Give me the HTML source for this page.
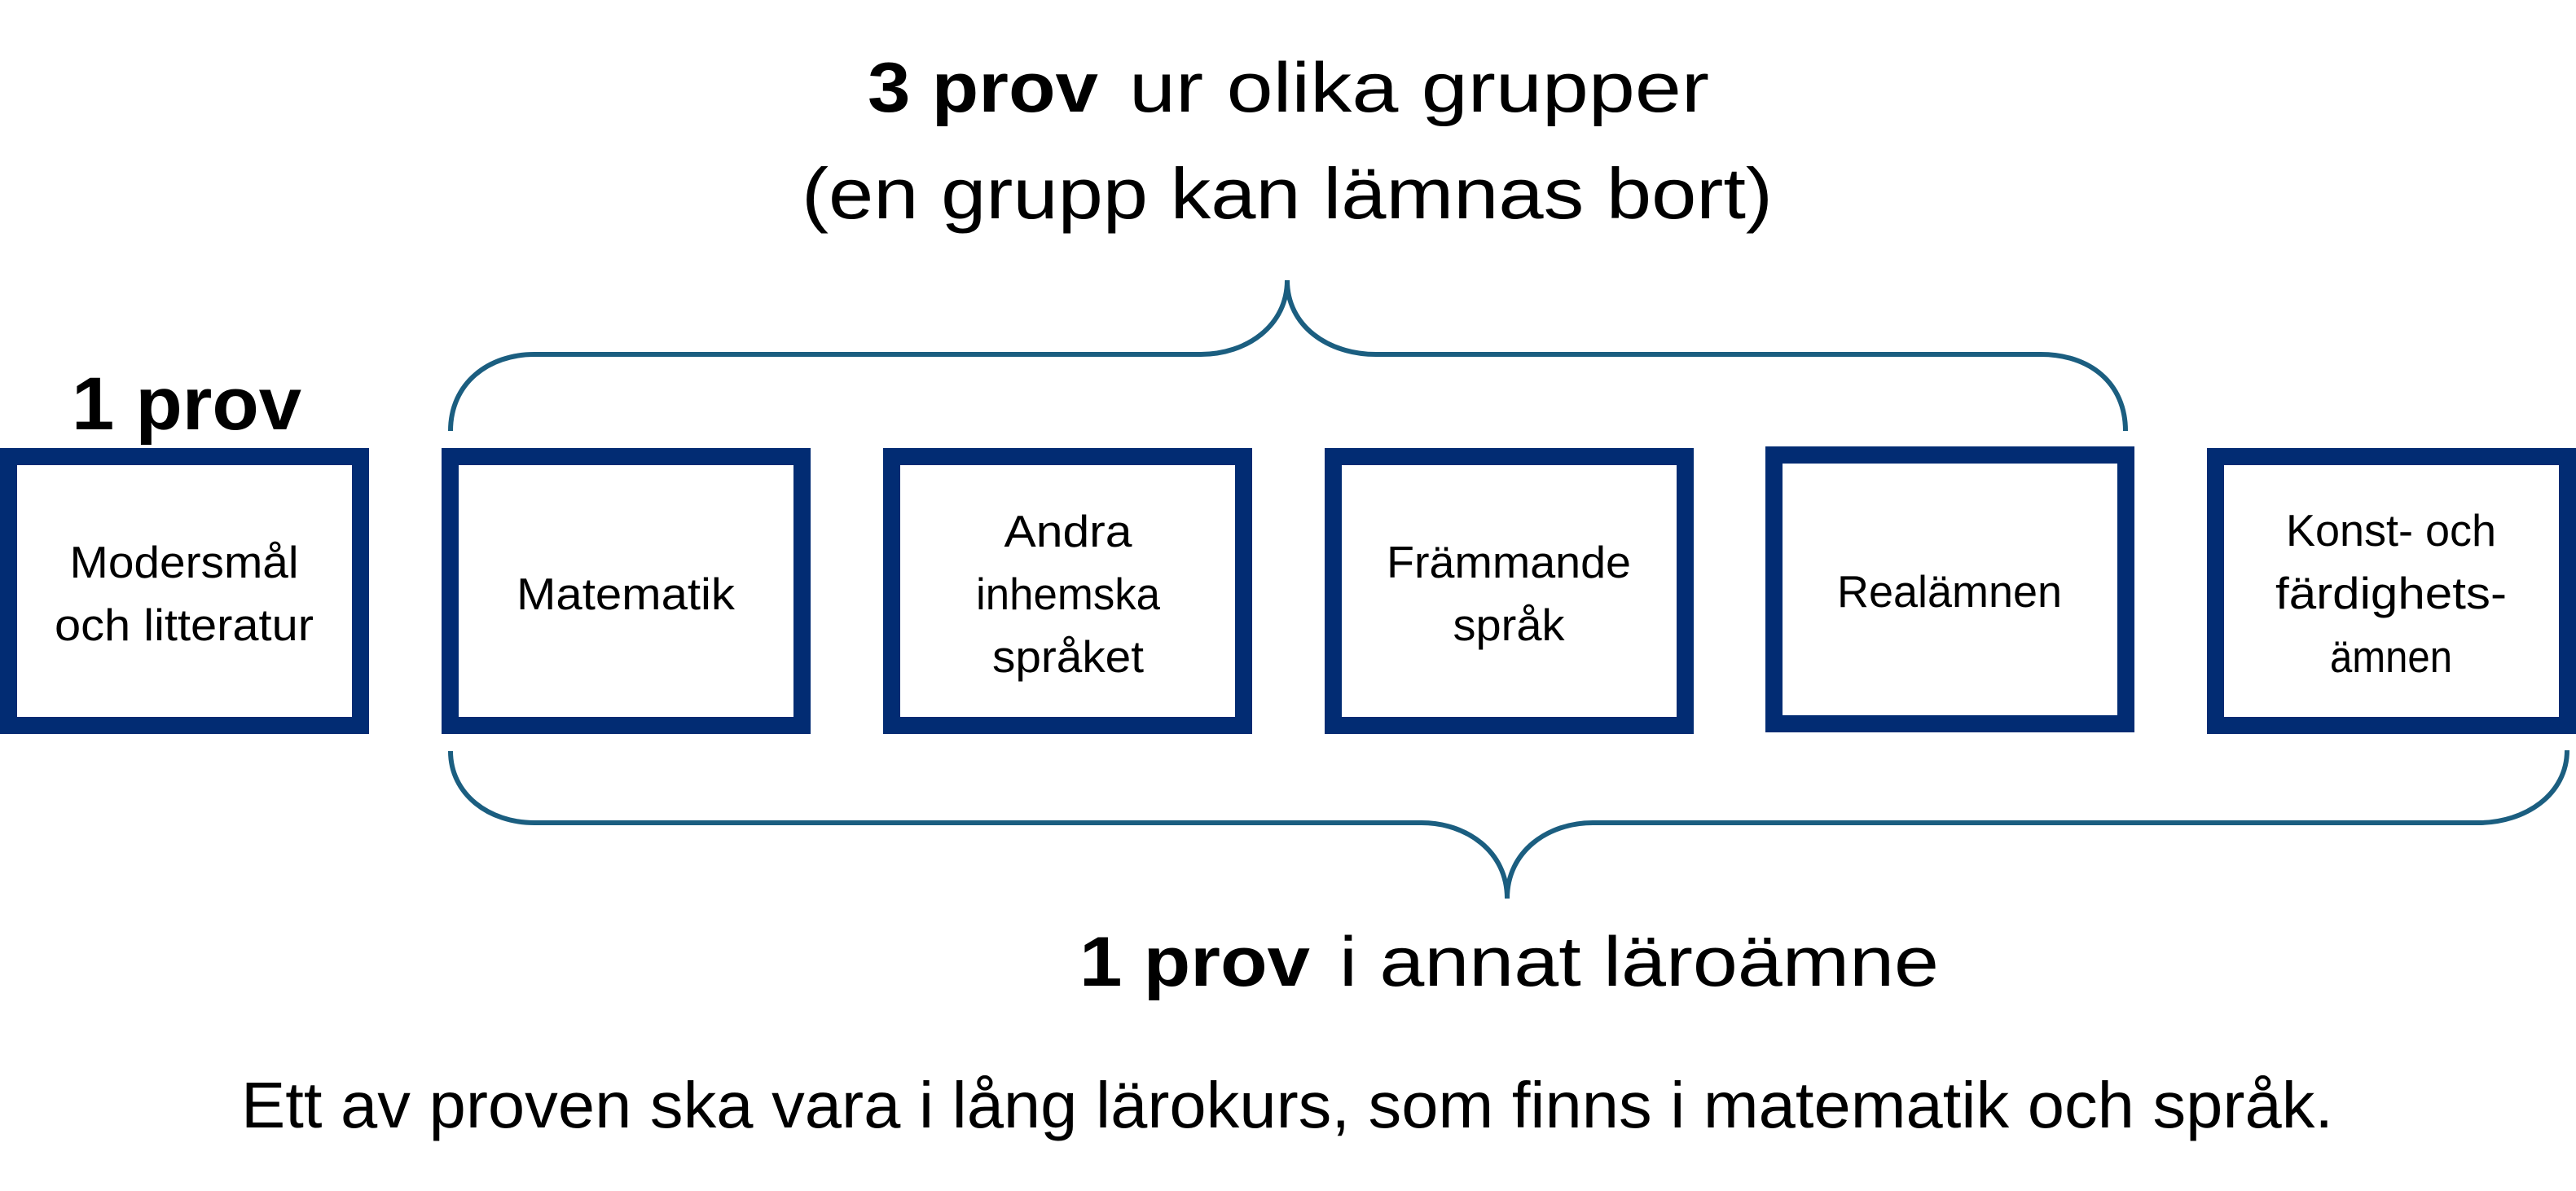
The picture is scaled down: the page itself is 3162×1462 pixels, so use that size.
<!DOCTYPE html>
<html><head><meta charset="utf-8"><style>
html,body{margin:0;padding:0;background:#fff;}
svg{display:block;}
text{font-family:"Liberation Sans",sans-serif;fill:#000;}
.b{font-size:55px;}
</style></head><body>
<svg width="3162" height="1462" viewBox="0 0 3162 1462" xmlns="http://www.w3.org/2000/svg">
<g fill="none" stroke="#022c73" stroke-width="21">
<rect x="10.5" y="560.5" width="432" height="330"/>
<rect x="552.5" y="560.5" width="432" height="330"/>
<rect x="1094.5" y="560.5" width="432" height="330"/>
<rect x="1636.5" y="560.5" width="432" height="330"/>
<rect x="2177.5" y="558.5" width="432" height="330"/>
<rect x="2719.5" y="560.5" width="432" height="330"/>
</g>
<g fill="none" stroke="#1b5e80" stroke-width="6">
<path d="M553,529 C553,470 600,435 656,435 L1474,435 C1530,435 1580,400 1580,344 C1580,400 1630,435 1689,435 L2505,435 C2565,435 2609,470 2609,529"/>
<path d="M553,922 C553,975 600,1010 656,1010 L1745,1010 C1800,1010 1850,1045 1850,1103 C1850,1045 1900,1010 1955,1010 L3042,1010 C3100,1010 3151,975 3151,921"/>
</g>
<text x="1065" y="137" font-size="86" font-weight="bold" textLength="283" lengthAdjust="spacingAndGlyphs">3 prov</text>
<text x="1386" y="137" font-size="86" textLength="712" lengthAdjust="spacingAndGlyphs">ur olika grupper</text>
<text x="984" y="268" font-size="88" textLength="1192" lengthAdjust="spacingAndGlyphs">(en grupp kan lämnas bort)</text>
<text x="88" y="527" font-size="92" font-weight="bold" textLength="282" lengthAdjust="spacingAndGlyphs">1 prov</text>
<text x="1325" y="1210" font-size="86" font-weight="bold" textLength="283" lengthAdjust="spacingAndGlyphs">1 prov</text>
<text x="1644" y="1210" font-size="86" textLength="736" lengthAdjust="spacingAndGlyphs">i annat läroämne</text>
<text x="296" y="1384" font-size="80" textLength="2568" lengthAdjust="spacingAndGlyphs">Ett av proven ska vara i lång lärokurs, som finns i matematik och språk.</text>
<g class="b" text-anchor="middle">
<text x="226" y="709" textLength="281" lengthAdjust="spacingAndGlyphs">Modersmål</text>
<text x="226" y="786" textLength="318" lengthAdjust="spacingAndGlyphs">och litteratur</text>
<text x="768" y="748" textLength="268" lengthAdjust="spacingAndGlyphs">Matematik</text>
<text x="1311" y="671" textLength="157" lengthAdjust="spacingAndGlyphs">Andra</text>
<text x="1311" y="748" textLength="226" lengthAdjust="spacingAndGlyphs">inhemska</text>
<text x="1311" y="825" textLength="186" lengthAdjust="spacingAndGlyphs">språket</text>
<text x="1852" y="709" textLength="300" lengthAdjust="spacingAndGlyphs">Främmande</text>
<text x="1852" y="786" textLength="137" lengthAdjust="spacingAndGlyphs">språk</text>
<text x="2393" y="745" textLength="276" lengthAdjust="spacingAndGlyphs">Realämnen</text>
<text x="2935" y="670" textLength="258" lengthAdjust="spacingAndGlyphs">Konst- och</text>
<text x="2935" y="747" textLength="284" lengthAdjust="spacingAndGlyphs">färdighets-</text>
<text x="2935" y="825" textLength="150" lengthAdjust="spacingAndGlyphs">ämnen</text>
</g>
</svg>
</body></html>
